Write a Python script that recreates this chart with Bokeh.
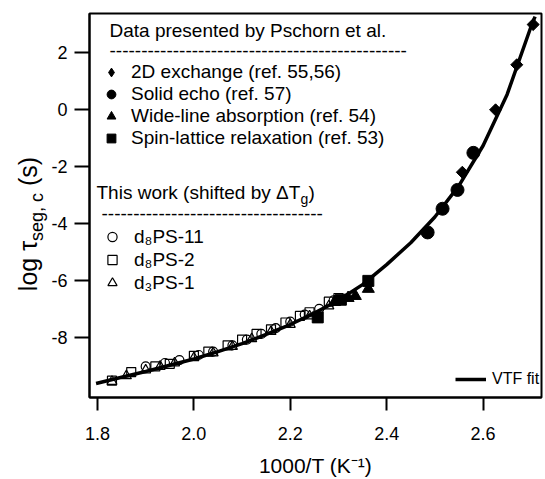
from math import pi
from bokeh.plotting import figure
from bokeh.layouts import row
from bokeh.models import Range1d, FixedTicker, Label, Legend, LegendItem, Div
from bokeh.embed import file_html
from bokeh.resources import INLINE

# ---------------- data ----------------
x_ticks = [1.8, 2.0, 2.2, 2.4, 2.6]
y_ticks = [-8, -6, -4, -2, 0, 2]

# VTF fit curve
curve_x = [1.797, 1.85, 1.90, 1.95, 2.00, 2.05, 2.10, 2.15, 2.20, 2.25, 2.30,
           2.35, 2.40, 2.45, 2.50, 2.55, 2.60, 2.65, 2.70, 2.708]
curve_y = [-9.62, -9.40, -9.20, -8.98, -8.76, -8.50, -8.22, -7.90, -7.55, -7.15, -6.70,
           -6.15, -5.45, -4.68, -3.78, -2.68, -1.28, 0.52, 2.92, 3.25]

# Data presented by Pschorn et al.
exch_x = [2.557, 2.626, 2.670, 2.704]          # 2D exchange
exch_y = [-2.21, -0.02, 1.56, 2.97]
echo_x = [2.485, 2.516, 2.547, 2.580]          # solid echo
echo_y = [-4.32, -3.49, -2.83, -1.53]
wide_x = [2.292, 2.320, 2.335, 2.362]          # wide-line absorption
wide_y = [-6.76, -6.62, -6.55, -6.30]
spin_x = [2.257, 2.305, 2.362]                 # spin-lattice relaxation
spin_y = [-7.30, -6.68, -6.02]

# This work
ps11_x = [1.90, 1.94, 1.97, 2.01, 2.04, 2.08, 2.11, 2.14, 2.17, 2.20, 2.23, 2.26, 2.29]
ps11_y = [-9.02, -8.90, -8.80, -8.62, -8.50, -8.28, -8.08, -7.88, -7.68, -7.45, -7.20, -7.00, -6.70]
ps2_x = [1.83, 1.87, 1.92, 1.95, 2.00, 2.03, 2.07, 2.10, 2.13, 2.16, 2.19, 2.22, 2.24, 2.28, 2.30]
ps2_y = [-9.52, -9.22, -9.02, -8.93, -8.65, -8.50, -8.28, -8.08, -7.88, -7.72, -7.48, -7.25, -7.12, -6.75, -6.62]
ps1_x = [1.83, 1.86, 1.90, 1.93, 1.96, 2.00, 2.04, 2.08, 2.12, 2.16, 2.20, 2.24, 2.28]
ps1_y = [-9.55, -9.35, -9.15, -9.02, -8.90, -8.72, -8.55, -8.32, -8.05, -7.80, -7.55, -7.25, -6.90]

FONT = "Liberation Sans"
DIV_W = 48

p = figure(width=545 - DIV_W, height=479, output_backend="svg", toolbar_location=None,
           x_range=Range1d(1.7834, 2.7213), y_range=Range1d(-10.11, 3.358),
           min_border_left=88 - DIV_W, min_border_right=4, min_border_top=13,
           min_border_bottom=82)
p.grid.visible = False
p.outline_line_color = "black"
p.outline_line_width = 2
p.background_fill_color = "white"
p.border_fill_color = "white"

for ax in (p.xaxis[0], p.yaxis[0]):
    ax.axis_line_width = 2
    ax.axis_line_color = "black"
    ax.major_tick_line_width = 2
    ax.major_tick_line_color = "black"
    ax.major_tick_in = 0
    ax.minor_tick_line_color = None
    ax.major_label_text_font = FONT
    ax.major_label_text_font_size = "18px"
    ax.major_label_text_color = "black"
    ax.axis_label_text_font = FONT
    ax.axis_label_text_font_size = "21px"
    ax.axis_label_text_font_style = "normal"
    ax.axis_label_text_color = "black"

p.xaxis.ticker = FixedTicker(ticks=x_ticks)
p.yaxis.ticker = FixedTicker(ticks=y_ticks)
p.xaxis.major_label_overrides = {t: f"{t:.1f}" for t in x_ticks}
p.yaxis.major_label_overrides = {t: f"{t:d}" for t in y_ticks}
p.xaxis.major_tick_out = 13
p.yaxis.major_tick_out = 15
p.xaxis.major_label_standoff = 16
p.yaxis.major_label_standoff = 7
p.xaxis.axis_label = "1000/T (K\u207b\u00b9)"
p.xaxis.axis_label_standoff = 11

# open markers (this work)
r11 = p.scatter(ps11_x, ps11_y, marker="circle", size=9, fill_color=None,
                line_color="black", line_width=1.2)
r2 = p.scatter(ps2_x, ps2_y, marker="square", size=9, fill_color=None,
               line_color="black", line_width=1.2)
r1 = p.scatter(ps1_x, ps1_y, marker="triangle", size=10, fill_color=None,
               line_color="black", line_width=1.2)

# VTF fit
rfit = p.line(curve_x, curve_y, line_width=3.5, line_color="black")

# solid markers; the plain diamond (used for the legend sample) sits hidden
# under the rotated squares that draw the 2D-exchange points
rex_leg = p.scatter(exch_x, exch_y, marker="diamond", size=10,
                    fill_color="black", line_color="black")
p.scatter(exch_x, exch_y, marker="square", angle=pi / 4, size=8.5,
          fill_color="black", line_color="black")
rec = p.scatter(echo_x, echo_y, marker="circle", size=13,
                fill_color="black", line_color="black")
rwl = p.scatter(wide_x, wide_y, marker="triangle", size=12,
                fill_color="black", line_color="black")
rsl = p.scatter(spin_x, spin_y, marker="square", size=11,
                fill_color="black", line_color="black")


def make_legend(items, loc, gw, gh, spacing, standoff, fsize="19px"):
    lg = Legend(items=items, location=loc, orientation="vertical",
                glyph_width=gw, glyph_height=gh, spacing=spacing,
                label_standoff=standoff, padding=0, margin=0,
                border_line_color=None, background_fill_alpha=0,
                label_text_font=FONT, label_text_font_size=fsize,
                label_text_color="black", label_height=gh)
    p.add_layout(lg, "center")
    return lg


make_legend([LegendItem(label="2D exchange (ref. 55,56)", renderers=[rex_leg]),
             LegendItem(label="Solid echo (ref. 57)", renderers=[rec]),
             LegendItem(label="Wide-line absorption (ref. 54)", renderers=[rwl]),
             LegendItem(label="Spin-lattice relaxation (ref. 53)", renderers=[rsl])],
            (9, 248), 26, 22, 0, 7)
make_legend([LegendItem(label="d\u2088PS-11", renderers=[r11]),
             LegendItem(label="d\u2088PS-2", renderers=[r2]),
             LegendItem(label="d\u2083PS-1", renderers=[r1])],
            (10, 103), 26, 23, 0, 9)
make_legend([LegendItem(label="VTF fit", renderers=[rfit])],
            (366, 8), 31, 20, 0, 6, fsize="16px")


def lab(text, x, y, size="19px"):
    p.add_layout(Label(x=x, y=y, x_units="screen", y_units="screen", text=text,
                       text_font=FONT, text_font_size=size, text_color="black",
                       text_align="left", text_baseline="middle"))


lab("Data presented by Pschorn et al.", 20, 367)
lab("-" * 47, 20, 347)
lab("This work (shifted by \u0394T", 7, 205)
lab("g", 211, 199, size="14px")
lab(")", 219, 205)
lab("-" * 35, 12, 184)

# y-axis label: log tau_{seg, c} (s)
ylabel_html = (
    f'<div style="position:relative;width:{DIV_W}px;height:479px;">'
    '<div style="position:absolute;left:28px;top:224px;'
    'transform:translate(-50%,-50%) rotate(-90deg);white-space:nowrap;'
    "font-family:'Liberation Sans';font-size:25px;color:black;line-height:1;\">"
    'log \u03c4<span style="font-size:18px;position:relative;top:6px;">seg, c</span> (s)'
    '</div></div>'
)
ylab = Div(text=ylabel_html, width=DIV_W, height=479, margin=0)

layout = row(ylab, p, spacing=0)
open("out.html", "w").write(file_html(layout, INLINE))
